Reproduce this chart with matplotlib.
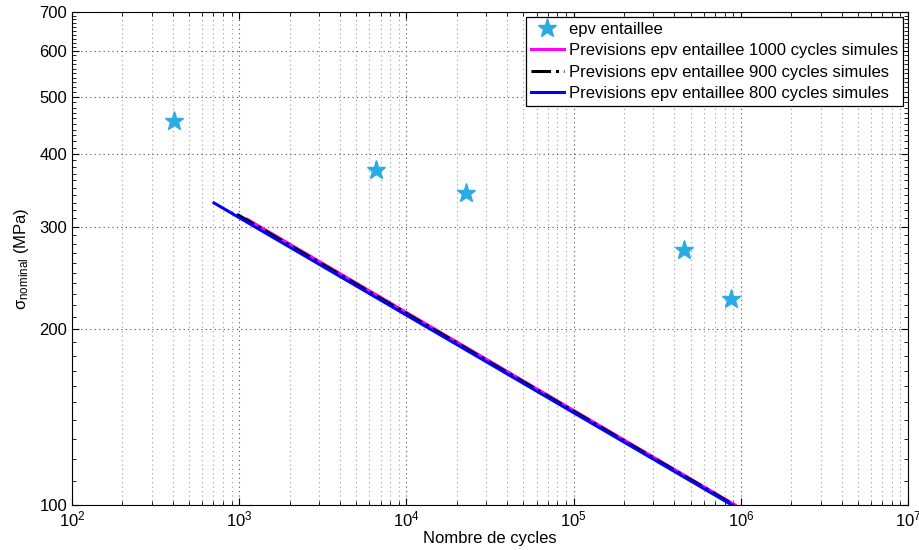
import matplotlib
matplotlib.use("Agg")
import matplotlib.pyplot as plt
from matplotlib.ticker import FixedLocator, NullFormatter, LogLocator, FixedFormatter

plt.rcParams['font.family'] = ['Liberation Sans', 'DejaVu Sans']
plt.rcParams['mathtext.fontset'] = 'custom'
plt.rcParams['mathtext.rm'] = 'Liberation Sans'
plt.rcParams['mathtext.it'] = 'Liberation Sans:italic'
plt.rcParams['mathtext.default'] = 'regular'

# Experimental points
exp_cycles = [407, 6580, 22700, 457000, 873000]
exp_stress = [455, 375, 342, 273.5, 225.5]

# Predictions (start and end points of each straight log-log line)
pred1000_cycles = [1115, 925000]
pred1000_stress = [309, 100]
pred900_cycles = [970, 910000]
pred900_stress = [315, 100]
pred800_cycles = [706, 885000]
pred800_stress = [329.5, 100]

y_ticks = [100, 200, 300, 400, 500, 600, 700]

fig = plt.figure(figsize=(9.2, 5.5), dpi=100)
ax = fig.add_axes([0.0783, 0.0818, 0.9087, 0.8964])

ax.plot(exp_cycles, exp_stress, linestyle='none', marker='*', markersize=14,
        color='#2aabe3', label='epv entaillee')
ax.plot(pred1000_cycles, pred1000_stress, color='#ff00ff', lw=2.2,
        label='Previsions epv entaillee 1000 cycles simules')
ax.plot(pred900_cycles, pred900_stress, color='black', lw=2.2, linestyle='-.',
        label='Previsions epv entaillee 900 cycles simules')
ax.plot(pred800_cycles, pred800_stress, color='#0000ff', lw=2.2,
        label='Previsions epv entaillee 800 cycles simules')

ax.set_xscale('log')
ax.set_yscale('log')
ax.set_xlim(1e2, 1e7)
ax.set_ylim(100, 700)

ax.yaxis.set_major_locator(FixedLocator(y_ticks))
ax.yaxis.set_major_formatter(FixedFormatter([str(v) for v in y_ticks]))
ax.yaxis.set_minor_locator(FixedLocator([v for v in range(110, 700, 10) if v not in y_ticks]))
ax.yaxis.set_minor_formatter(NullFormatter())
ax.xaxis.set_major_locator(LogLocator(base=10, numticks=10))
ax.xaxis.set_minor_locator(LogLocator(base=10, subs=range(2, 10), numticks=50))
ax.xaxis.set_minor_formatter(NullFormatter())

ax.grid(True, which='major', axis='both', linestyle=(0, (1, 3)), color='0.3', lw=0.8)
ax.grid(True, which='minor', axis='x', linestyle=(0, (1, 3)), color='0.6', lw=0.8)

ax.tick_params(which='both', direction='in', top=True, right=True, labelsize=12)
ax.tick_params(which='major', length=5)
ax.tick_params(which='minor', length=3)
for s in ax.spines.values():
    s.set_linewidth(0.8)

ax.set_xlabel('Nombre de cycles', fontsize=12, labelpad=1)
ax.set_ylabel(r'$\sigma_{nominal}$ (MPa)', fontsize=12, labelpad=6)

leg = ax.legend(loc='upper right', fontsize=12, frameon=True, fancybox=False,
                edgecolor='black', framealpha=1, borderpad=0.3, labelspacing=0.38,
                handlelength=2.0, handletextpad=0.3, borderaxespad=0.3,
                numpoints=1)
leg.get_frame().set_linewidth(0.9)

fig.savefig('out.png', dpi=100)
